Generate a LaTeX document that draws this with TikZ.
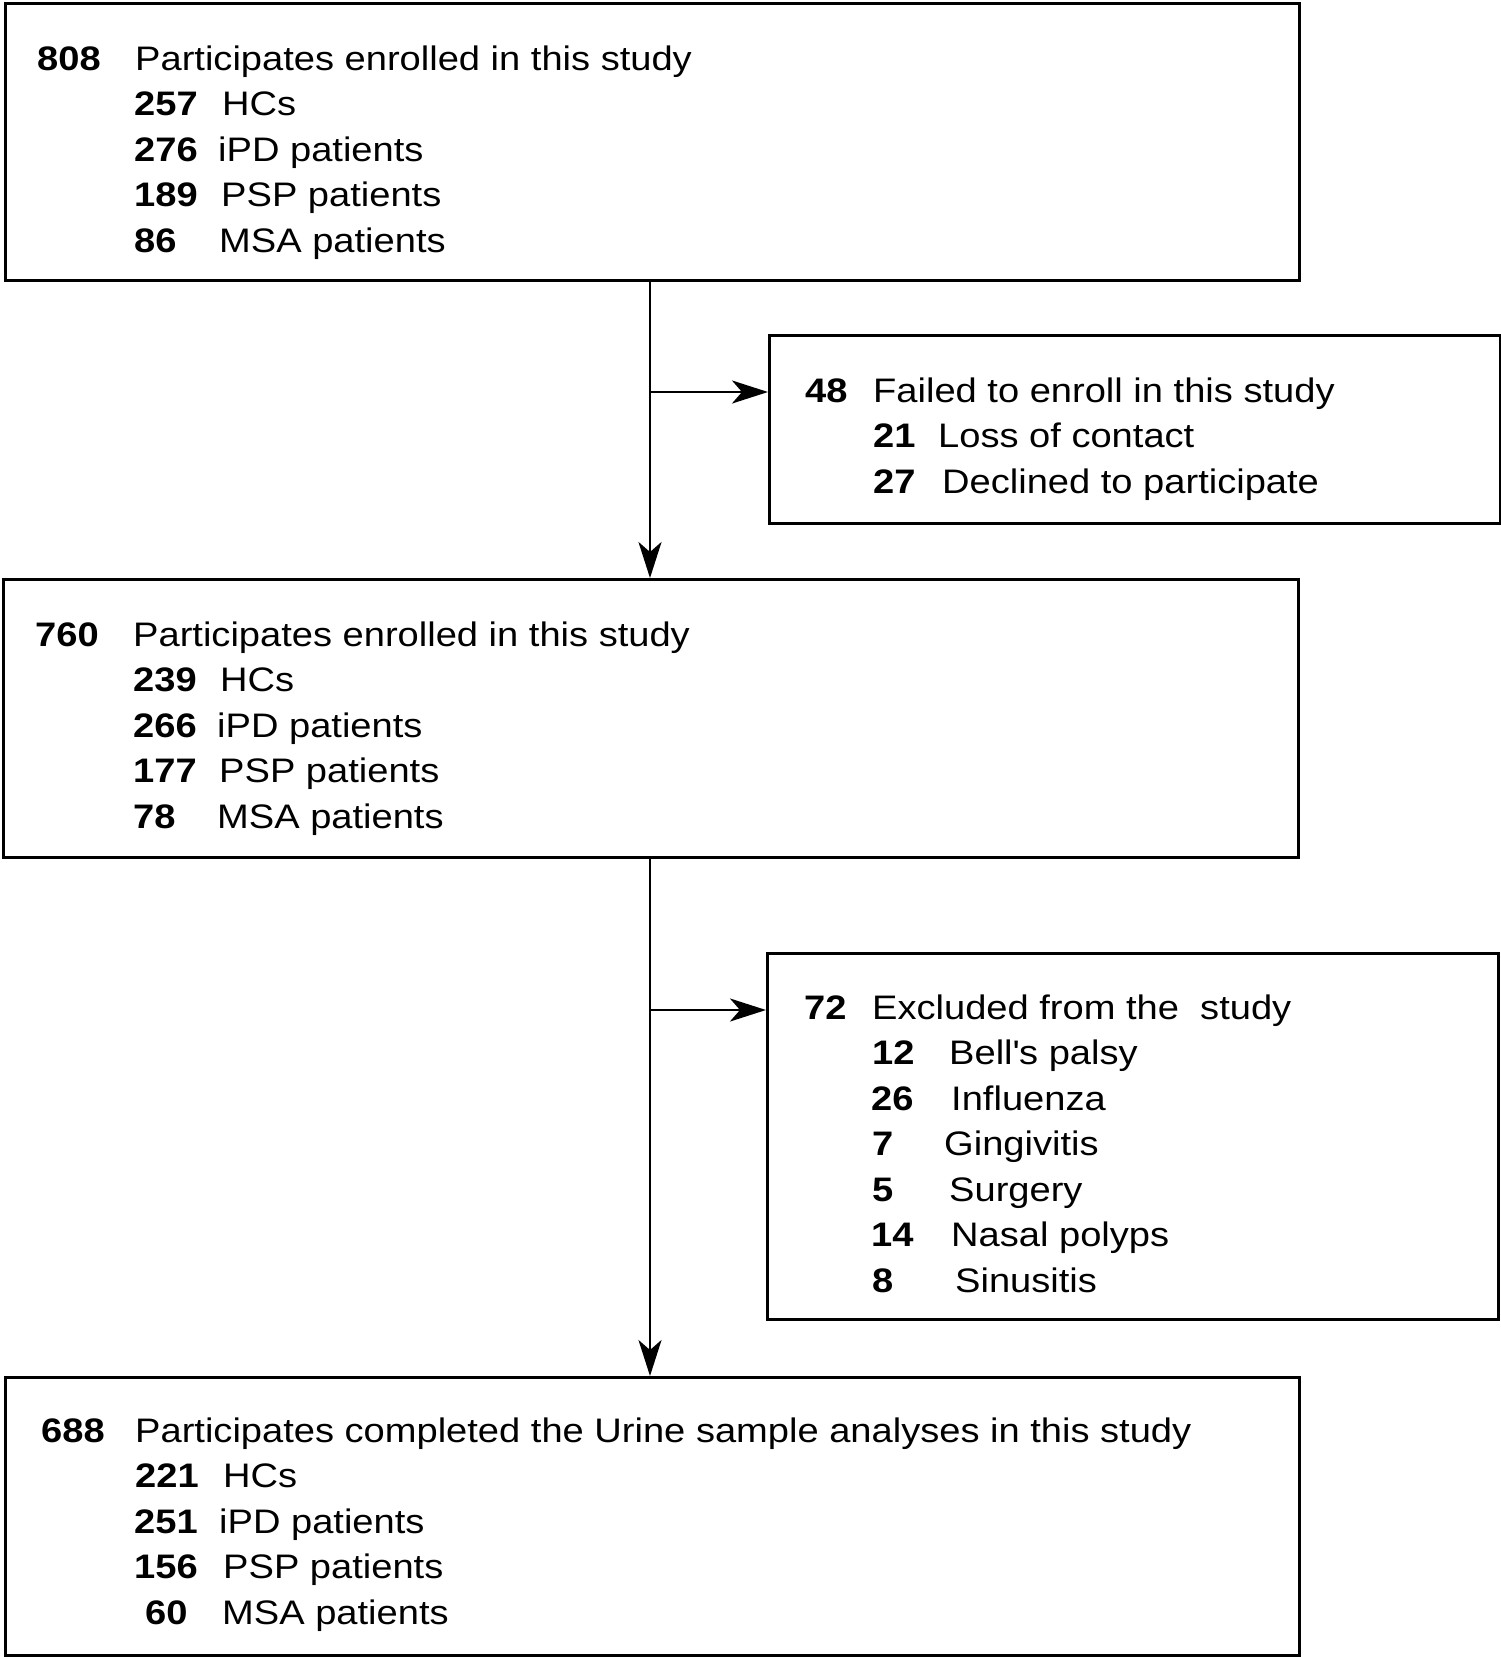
\documentclass[tikz,border=0pt]{standalone}
\usepackage{fontspec}
\setmainfont{Liberation Sans}[FakeStretch=1.12]
\usetikzlibrary{arrows.meta}
\begin{document}
\begin{tikzpicture}[x=1pt,y=-1pt,
  boxstyle/.style={draw, line width=3.2pt, inner sep=0pt, anchor=north west},
  txt/.style={anchor=base west, inner sep=0pt, font=\fontsize{34}{40}\selectfont},
  num/.style={anchor=base west, inner sep=0pt, font=\fontsize{34}{40}\selectfont\bfseries},
  conn/.style={line width=2.8pt, -{Stealth[length=36pt,width=23pt,inset=10pt]}},
]
\useasboundingbox (0,0) rectangle (1500,1657);
% boxes
\node[boxstyle, minimum width=1294pt, minimum height=277pt] (b1) at (4,2) {};
\node[boxstyle, minimum width=731pt, minimum height=188pt] (b2) at (768,334) {};
\node[boxstyle, minimum width=1295pt, minimum height=278pt] (b3) at (2,578) {};
\node[boxstyle, minimum width=731pt, minimum height=366pt] (b4) at (766,952) {};
\node[boxstyle, minimum width=1294pt, minimum height=278pt] (b5) at (4,1376) {};
% box 1
\node[num] (n1a) at (37,70) {808};
\node[txt] (t1a) at (135,70) {Participates enrolled in this study};
\node[num] (n1b) at (134,115) {257};
\node[txt] (t1b) at (222,115) {HCs};
\node[num] (n1c) at (134,161) {276};
\node[txt] (t1c) at (218,161) {iPD patients};
\node[num] (n1d) at (134,206) {189};
\node[txt] (t1d) at (221,206) {PSP patients};
\node[num] (n1e) at (134,252) {86};
\node[txt] (t1e) at (219,252) {MSA patients};
% box 2
\node[num] (n2a) at (805,402) {48};
\node[txt] (t2a) at (873,402) {Failed to enroll in this study};
\node[num] (n2b) at (873,447) {21};
\node[txt] (t2b) at (938,447) {Loss of contact};
\node[num] (n2c) at (873,493) {27};
\node[txt] (t2c) at (942,493) {Declined to participate};
% box 3
\node[num] (n3a) at (35,646) {760};
\node[txt] (t3a) at (133,646) {Participates enrolled in this study};
\node[num] (n3b) at (133,691) {239};
\node[txt] (t3b) at (220,691) {HCs};
\node[num] (n3c) at (133,737) {266};
\node[txt] (t3c) at (217,737) {iPD patients};
\node[num] (n3d) at (133,782) {177};
\node[txt] (t3d) at (219,782) {PSP patients};
\node[num] (n3e) at (133,828) {78};
\node[txt] (t3e) at (217,828) {MSA patients};
% box 4
\node[num] (n4a) at (804,1019) {72};
\node[txt] (t4a) at (872,1019) {Excluded from the\ \ study};
\node[num] (n4b) at (872,1064) {12};
\node[txt] (t4b) at (949,1064) {Bell\textquotesingle s palsy};
\node[num] (n4c) at (871,1110) {26};
\node[txt] (t4c) at (951,1110) {Influenza};
\node[num] (n4d) at (872,1155) {7};
\node[txt] (t4d) at (944,1155) {Gingivitis};
\node[num] (n4e) at (872,1201) {5};
\node[txt] (t4e) at (949,1201) {Surgery};
\node[num] (n4f) at (871,1246) {14};
\node[txt] (t4f) at (951,1246) {Nasal polyps};
\node[num] (n4g) at (872,1292) {8};
\node[txt] (t4g) at (955,1292) {Sinusitis};
% box 5
\node[num] (n5a) at (41,1442) {688};
\node[txt] (t5a) at (135,1442) {Participates completed the Urine sample analyses in this study};
\node[num] (n5b) at (135,1487) {221};
\node[txt] (t5b) at (223,1487) {HCs};
\node[num] (n5c) at (134,1533) {251};
\node[txt] (t5c) at (219,1533) {iPD patients};
\node[num] (n5d) at (134,1578) {156};
\node[txt] (t5d) at (223,1578) {PSP patients};
\node[num] (n5e) at (145,1624) {60};
\node[txt] (t5e) at (222,1624) {MSA patients};
% connectors
\coordinate (j1) at (650,392);
\coordinate (j2) at (650,1010);
\draw[conn] (b1.south -| j1) -- (b3.north -| j1);
\draw[conn] (j1) -- (j1 -| b2.west);
\draw[conn] (b3.south -| j2) -- (b5.north -| j2);
\draw[conn] (j2) -- (j2 -| b4.west);
\end{tikzpicture}
\end{document}
